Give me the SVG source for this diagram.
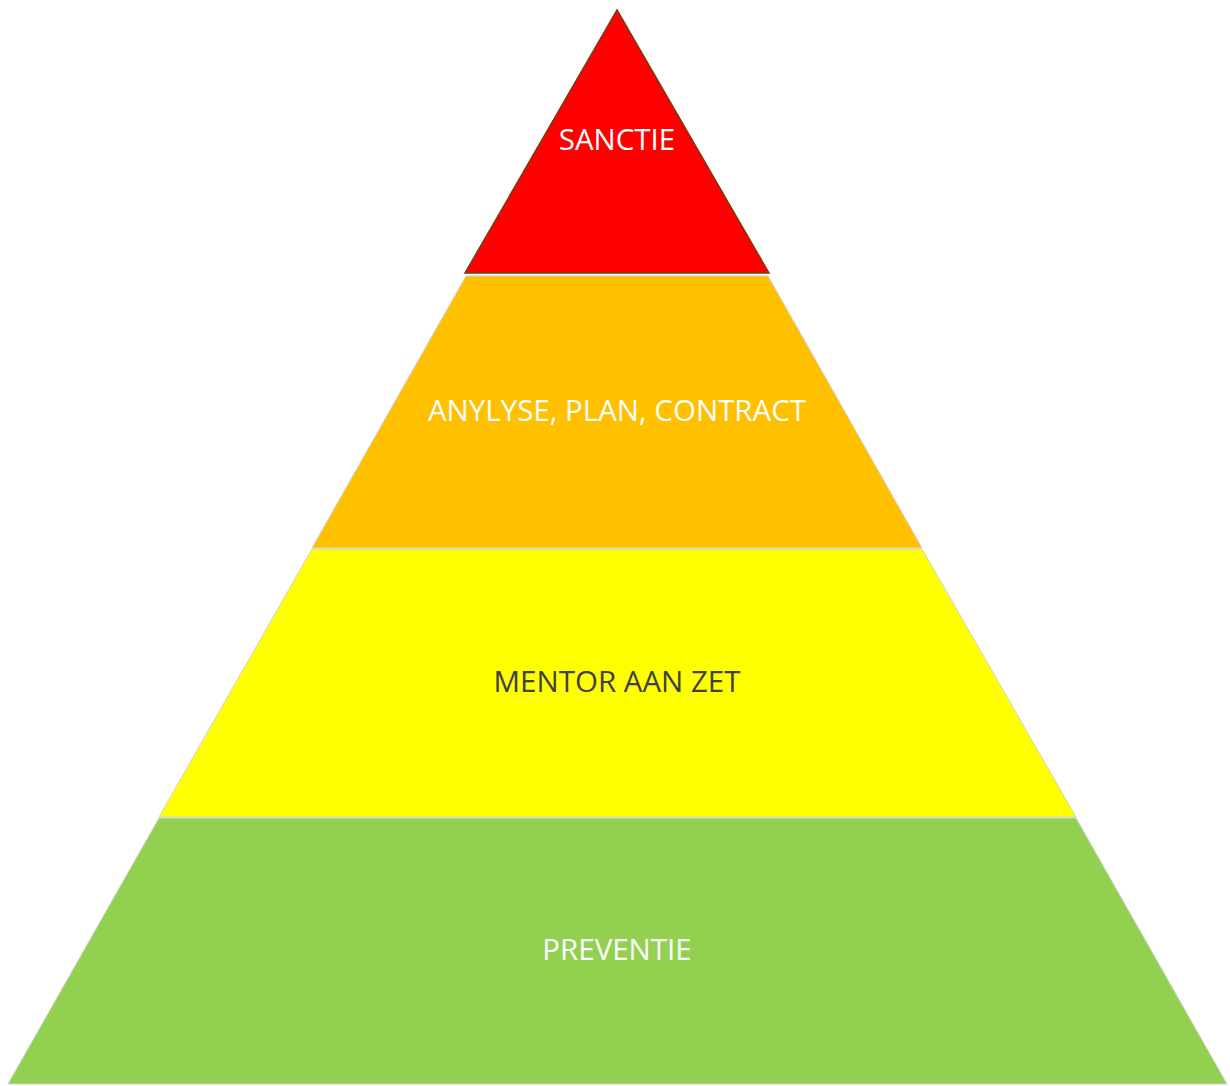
<svg xmlns="http://www.w3.org/2000/svg" width="1230" height="1086" viewBox="0 0 1230 1086">
<style>
.lbl{font-family:"Open Sans","Liberation Sans",sans-serif;font-size:29.5px;text-anchor:middle;fill:#ffffff}
.dark{fill:#404040}
.seg{stroke:#d0d0d0;stroke-width:1}
</style>
<rect width="1230" height="1086" fill="#ffffff"/>
<g id="sanctie">
<polygon points="617,10 769,273 465,273" fill="#ff0000" stroke="#7a3a10" stroke-width="1.5"/>
<text class="lbl" x="617" y="150">SANCTIE</text>
</g>
<g id="analyse">
<polygon class="seg" points="466,276 768,276 922,548 312,548" fill="#ffc000"/>
<text class="lbl" x="617" y="421">ANYLYSE, PLAN, CONTRACT</text>
</g>
<g id="mentor">
<polygon class="seg" points="312,549 922,549 1076,817 159,817" fill="#ffff00"/>
<text class="lbl dark" x="617" y="692">MENTOR AAN ZET</text>
</g>
<g id="preventie">
<polygon class="seg" points="159,818 1076,818 1227,1084 8,1084" fill="#92d050"/>
<text class="lbl" x="617" y="960">PREVENTIE</text>
</g>
<g id="connectors"/>
</svg>
